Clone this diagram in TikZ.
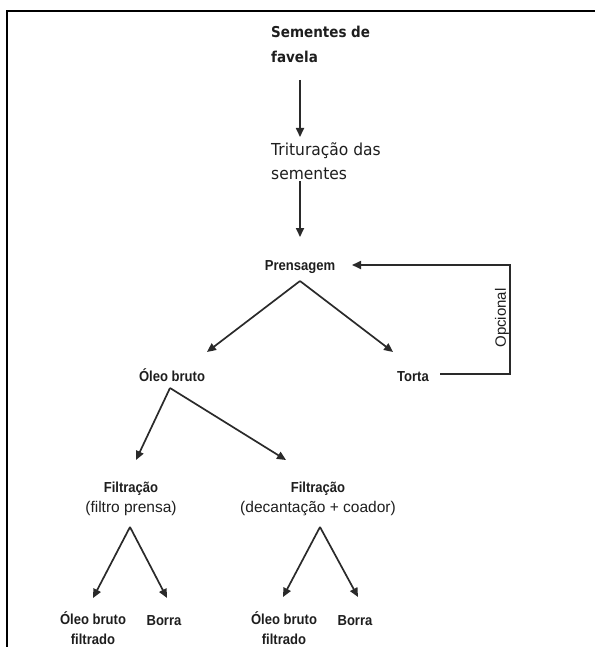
\documentclass[tikz,border=0pt]{standalone}
\usepackage{fontspec}
\setmainfont{Liberation Sans}
\newfontfamily\condfont[FakeStretch=0.9]{Liberation Sans}
\newfontfamily\comicfont[FakeStretch=0.94]{DejaVu Sans}
\newfontfamily\comicboldfont[FakeStretch=0.9]{DejaVu Sans Bold}
\usetikzlibrary{arrows.meta,calc}
\definecolor{ink}{HTML}{2A2A2A}
\definecolor{txt}{HTML}{1E1E1E}
\newcommand\subline[1]{{\normalfont\fontsize{15.5}{20}\selectfont #1}}
\tikzset{
  comicb/.style={inner sep=0pt, align=left, anchor=base west, text=txt,
    font=\comicboldfont\fontsize{15}{25}\selectfont},
  comicr/.style={inner sep=0pt, align=left, anchor=base west, text=txt,
    font=\comicfont\fontsize{16.5}{24}\selectfont},
  lbl/.style={inner sep=0pt, align=center, anchor=base, text=txt,
    font=\condfont\bfseries\fontsize{14.5}{20}\selectfont},
  arr/.style={draw=ink, line width=1.7pt, -{Triangle[length=9pt,width=8pt]}},
  frame/.style={draw=black, line width=1.8pt}
}
\begin{document}
\begin{tikzpicture}[x=1pt,y=-1pt]
\useasboundingbox (0,0) rectangle (595,647);
\draw[frame] (7,647) -- (7,11) -- (595,11);

% multi-line nodes: base anchor = last line's baseline
\node[comicb] (sem) at (271,63) {Sementes de\\favela};
\node[comicr] (trit) at (271,179) {Trituração das\\sementes};
\node[lbl] (pren) at (300,270) {Prensagem};
\node[lbl] (oleo) at (172,381) {Óleo bruto};
\node[lbl] (torta) at (413,381) {Torta};
\node[inner sep=0pt, text=txt, rotate=90, font=\fontsize{15}{18}\selectfont] (opc) at (502,318) {Opcional};
\node[lbl] (f1) at (131,512) {Filtração\\\subline{(filtro prensa)}};
\node[lbl] (f2) at (318,512) {Filtração\\\subline{(decantação + coador)}};
\node[lbl] (o1) at (93,644) {Óleo bruto\\filtrado};
\node[lbl] (b1) at (164,625) {Borra};
\node[lbl] (o2) at (284,644) {Óleo bruto\\filtrado};
\node[lbl] (b2) at (355,625) {Borra};

\draw[arr] ($(sem.base west)+(29,17)$) -- ($(trit.base west)+(29,-42)$);
\draw[arr] ($(trit.base west)+(29,2)$) -- ($(pren.base)+(0,-33)$);
\draw[arr] ($(pren.base)+(0,11)$) -- ($(oleo.base)+(35,-29)$);
\draw[arr] ($(pren.base)+(0,11)$) -- ($(torta.base)+(-20,-29)$);
\draw[arr] ($(torta.base)+(27,-7)$) -- ++(70,0) |- ($(pren.base)+(52,-5)$);
\draw[arr] ($(oleo.base)+(-2,7)$) -- ($(f1.base)+(5,-52)$);
\draw[arr] ($(oleo.base)+(-2,7)$) -- ($(f2.base)+(-32,-52)$);
\draw[arr] ($(f1.base)+(-1,15)$) -- ($(o1.base)+(0,-46)$);
\draw[arr] ($(f1.base)+(-1,15)$) -- ($(b1.base)+(3,-27)$);
\draw[arr] ($(f2.base)+(2,15)$) -- ($(o2.base)+(-1,-47)$);
\draw[arr] ($(f2.base)+(2,15)$) -- ($(b2.base)+(3,-28)$);
\end{tikzpicture}
\end{document}
